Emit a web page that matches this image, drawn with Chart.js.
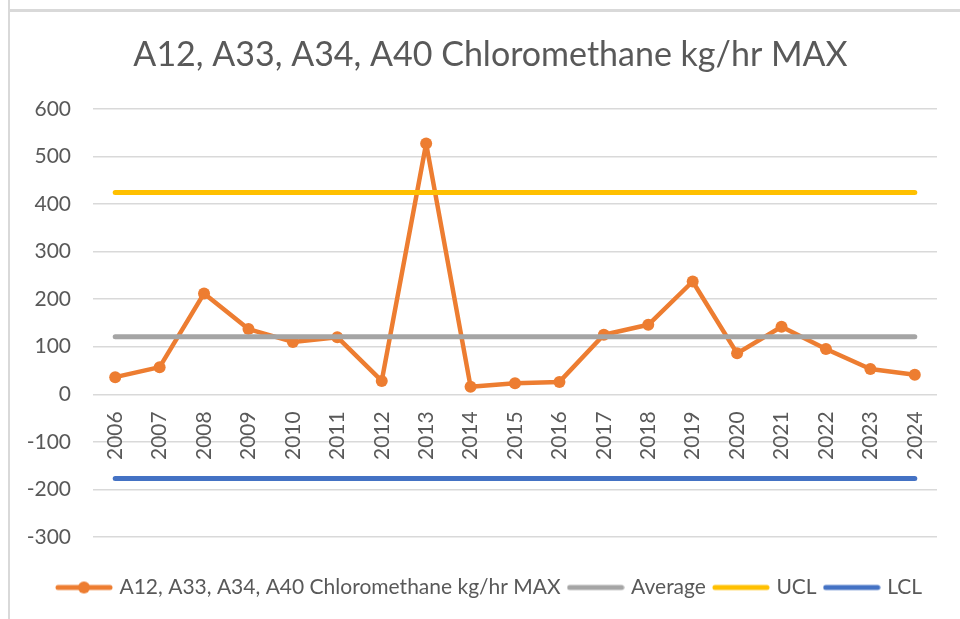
<!DOCTYPE html>
<html>
<head>
<meta charset="utf-8">
<script src="https://cdn.jsdelivr.net/npm/chart.js@4/dist/chart.umd.min.js"></script>
<style>
  html, body { margin: 0; padding: 0; background: #ffffff; }
  #wrap { position: relative; width: 960px; height: 619px; }
  canvas { display: block; }
</style>
</head>
<body>
<div id="wrap"><canvas id="c" width="960" height="619"></canvas></div>
<script>
const years = ['2006','2007','2008','2009','2010','2011','2012','2013','2014','2015','2016','2017','2018','2019','2020','2021','2022','2023','2024'];
const maxValues = [36, 57, 212, 137, 110, 120, 28, 527, 16, 23, 26, 125, 146, 237, 86, 142, 95, 53, 41];
const averageValue = 121;
const uclValue = 424;
const lclValue = -177;
const averageLine = years.map(() => averageValue);
const uclLine = years.map(() => uclValue);
const lclLine = years.map(() => lclValue);
const seriesNames = ['A12, A33, A34, A40 Chloromethane kg/hr MAX', 'Average', 'UCL', 'LCL'];
const titleText = 'A12, A33, A34, A40 Chloromethane kg/hr MAX';

const ORANGE = '#ED7D31', GRAY = '#A5A5A5', YELLOW = '#FFC000', BLUE = '#4472C4';
const TEXT = '#595959';
const FONT = 'Lato, "Open Sans", sans-serif';

function legendIcon(color, withDot) {
  const cv = document.createElement('canvas');
  cv.width = 58; cv.height = 14;
  const g = cv.getContext('2d');
  g.strokeStyle = color; g.lineWidth = 5; g.lineCap = 'round';
  g.beginPath(); g.moveTo(3, 7); g.lineTo(55, 7); g.stroke();
  if (withDot) {
    g.fillStyle = color; g.beginPath(); g.arc(29, 7, 6, 0, Math.PI * 2); g.fill();
  }
  return cv;
}
const icons = [legendIcon(ORANGE, true), legendIcon(GRAY, false), legendIcon(YELLOW, false), legendIcon(BLUE, false)];

const framePlugin = {
  id: 'frame',
  beforeDraw(chart) {
    const ctx = chart.ctx;
    ctx.save();
    ctx.fillStyle = '#ffffff';
    ctx.fillRect(0, 0, chart.width, chart.height);
    ctx.fillStyle = '#d9d9d9';
    ctx.fillRect(8, 0, 2, chart.height);
    ctx.fillRect(8, 9, chart.width - 8, 3);
    ctx.restore();
  }
};

new Chart(document.getElementById('c'), {
  type: 'line',
  data: {
    labels: years,
    datasets: [
      { label: seriesNames[0], data: maxValues, borderColor: ORANGE, backgroundColor: ORANGE,
        borderWidth: 4.5, pointRadius: 6, pointHoverRadius: 6, pointBorderWidth: 0,
        pointBackgroundColor: ORANGE, borderJoinStyle: 'round', borderCapStyle: 'round', order: 3 },
      { label: seriesNames[1], data: averageLine, borderColor: GRAY, backgroundColor: GRAY,
        borderWidth: 5, pointRadius: 0, borderCapStyle: 'round', order: 2 },
      { label: seriesNames[2], data: uclLine, borderColor: YELLOW, backgroundColor: YELLOW,
        borderWidth: 5, pointRadius: 0, borderCapStyle: 'round', order: 1 },
      { label: seriesNames[3], data: lclLine, borderColor: BLUE, backgroundColor: BLUE,
        borderWidth: 5, pointRadius: 0, borderCapStyle: 'round', order: 0 }
    ]
  },
  options: {
    responsive: false,
    animation: false,
    layout: { padding: { top: 0, left: 44, right: 23, bottom: 11 } },
    plugins: {
      title: {
        display: true, text: titleText, color: TEXT,
        font: { family: FONT, size: 34, weight: '400', lineHeight: 1.2 },
        padding: { top: 35, bottom: 33 }
      },
      legend: {
        position: 'bottom',
        title: { display: true, text: '', font: { size: 1, lineHeight: 1 }, padding: { top: 29, bottom: 0 } },
        labels: {
          color: TEXT,
          font: { family: FONT, size: 21 },
          usePointStyle: true,
          pointStyleWidth: 50,
          padding: 10,
          sort: (a, b) => a.datasetIndex - b.datasetIndex,
          generateLabels(chart) {
            const items = Chart.defaults.plugins.legend.labels.generateLabels(chart);
            items.forEach(it => { it.pointStyle = icons[it.datasetIndex]; });
            return items;
          }
        }
      },
      tooltip: { enabled: false }
    },
    scales: {
      x: {
        position: { y: 0 },
        offset: true,
        grid: { display: false, drawTicks: false },
        border: { display: false },
        ticks: { color: TEXT, font: { family: FONT, size: 21 }, minRotation: 90, maxRotation: 90, padding: 17, autoSkip: false }
      },
      y: {
        min: -300, max: 600,
        ticks: { stepSize: 100, color: TEXT, font: { family: FONT, size: 21 }, padding: 22 },
        grid: { color: '#D9D9D9', lineWidth: 1.5, drawTicks: false },
        border: { display: false },
        afterFit(scale) {
          scale.width = 49;
          scale._computeLabelArea = () => undefined;
        }
      }
    }
  },
  plugins: [framePlugin]
});
</script>
</body>
</html>
